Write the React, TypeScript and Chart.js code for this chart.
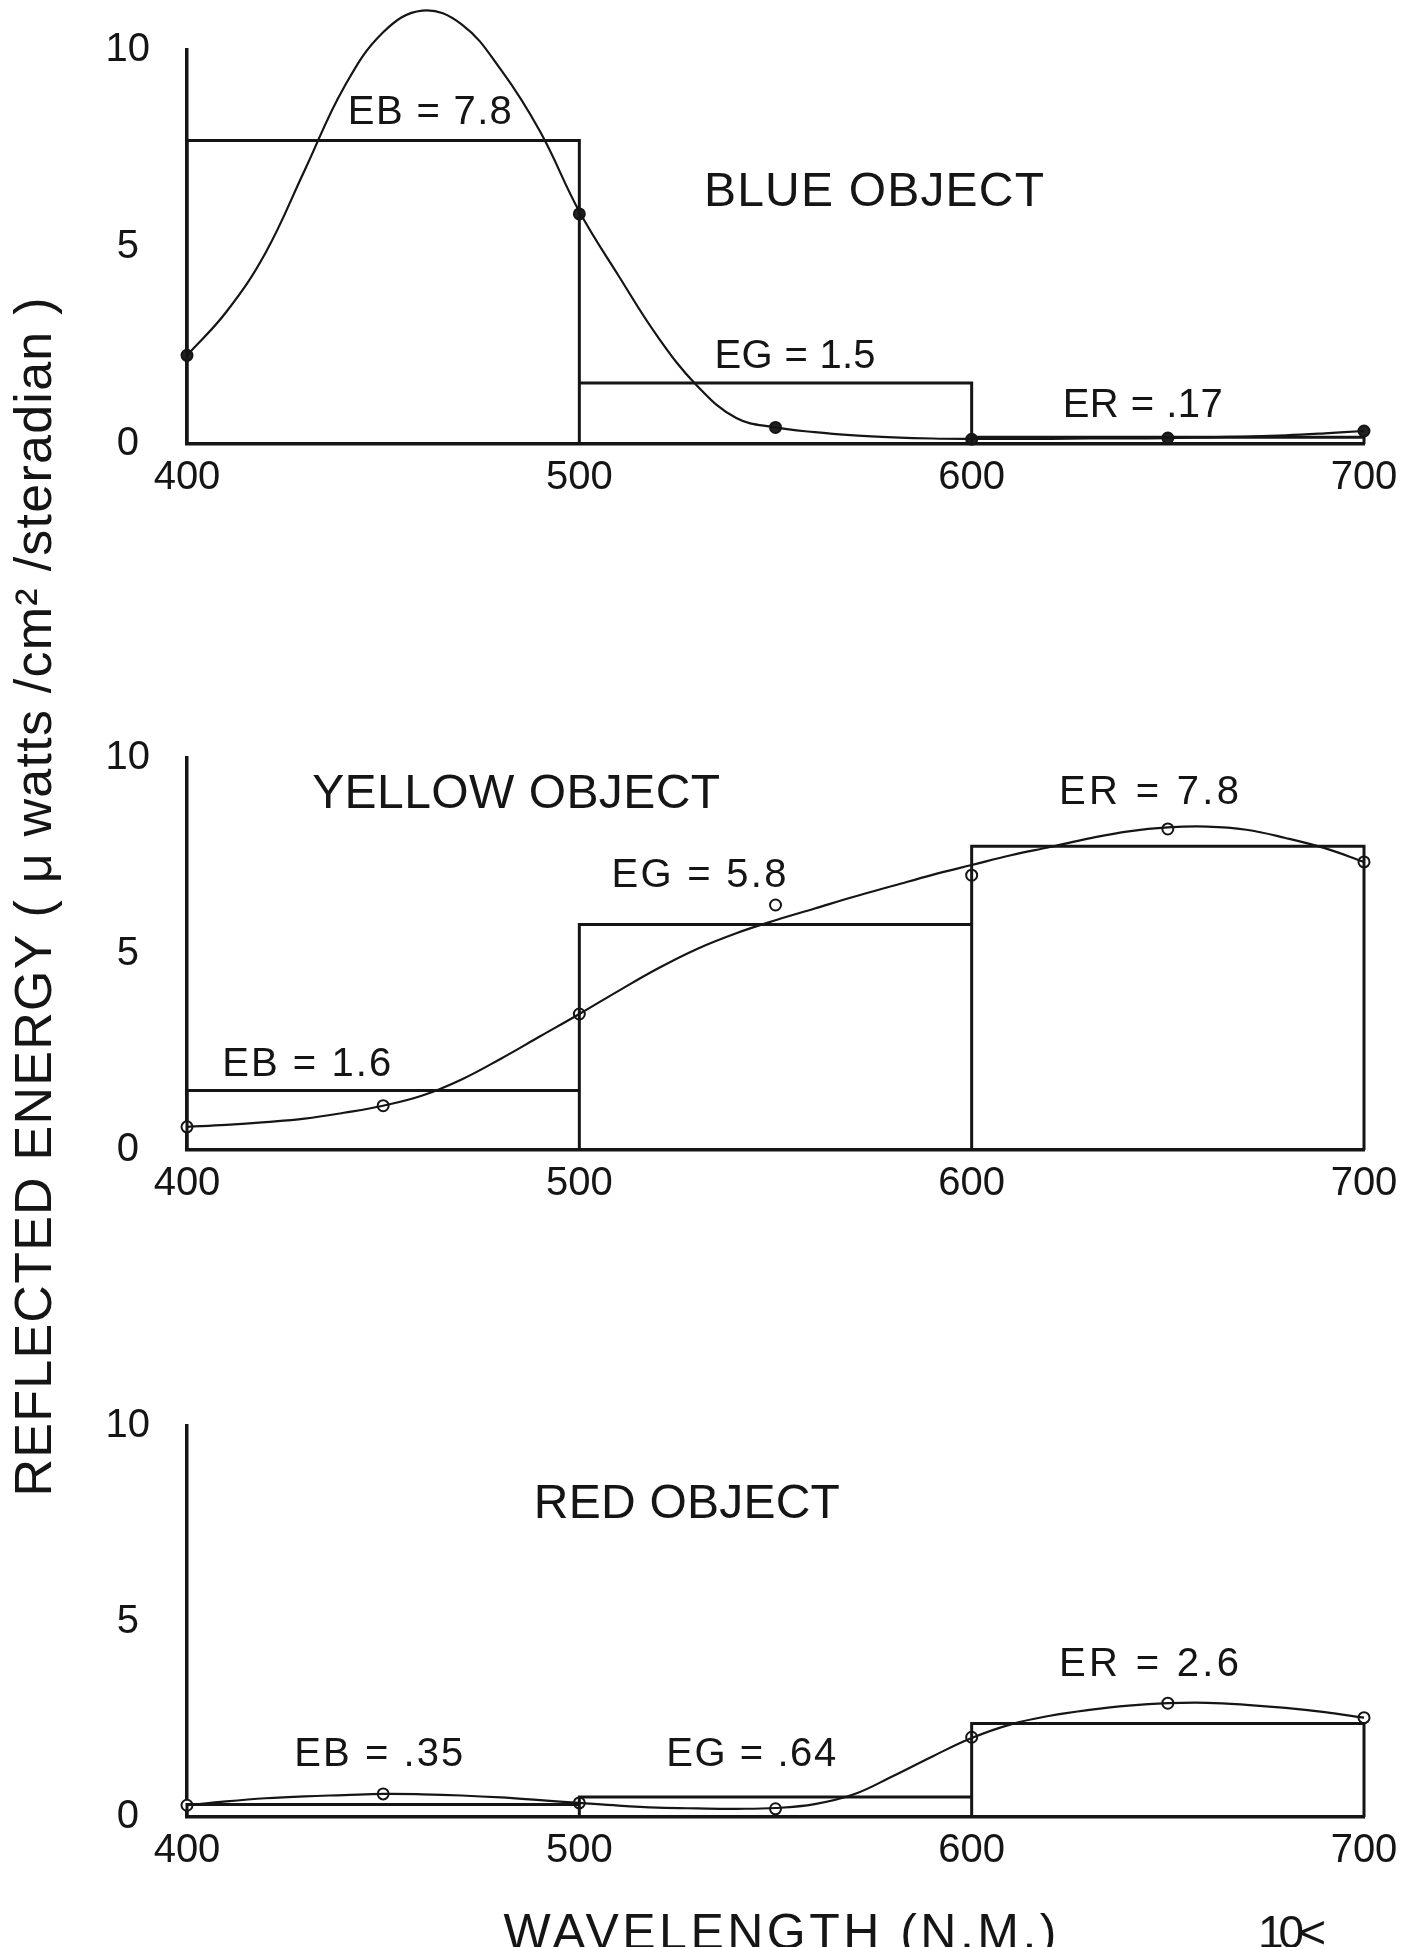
import React, { useEffect, useRef } from 'react';
import { Chart, registerables } from 'chart.js';

Chart.register(...registerables);

// ---------------- data ----------------
const WAVELENGTH_TICKS = [400, 500, 600, 700];
const ENERGY_TICKS = [0, 5, 10];
const BAND_EDGES = [400, 500, 600, 700];
const MARKER_NM = [400, 450, 500, 550, 600, 650, 700];
const CURVE_NM = [
  400, 410, 420, 430, 440, 450, 460, 470, 480, 490, 500, 510, 520, 530, 540, 550,
  560, 570, 580, 590, 600, 610, 620, 630, 640, 650, 660, 670, 680, 690, 700,
];

const BLUE_BAND_HEIGHTS = [7.7, 1.55, 0.17];
const BLUE_BAND_LABELS = ['EB = 7.8', 'EG = 1.5', 'ER = .17'];
const BLUE_MARKERS = [2.25, 10.43, 5.84, 0.42, 0.12, 0.15, 0.33];
const BLUE_CURVE = [
  2.25, 3.35, 4.85, 6.95, 9.05, 10.45, 11.0, 10.65, 9.5, 7.93, 5.9, 4.27, 2.72, 1.48, 0.66, 0.42,
  0.3, 0.22, 0.17, 0.14, 0.13, 0.13, 0.13, 0.14, 0.14, 0.15, 0.17, 0.19, 0.22, 0.27, 0.33,
];

const YELLOW_BAND_HEIGHTS = [1.52, 5.75, 7.75];
const YELLOW_BAND_LABELS = ['EB = 1.6', 'EG = 5.8', 'ER = 7.8'];
const YELLOW_MARKERS = [0.59, 1.13, 3.47, 6.25, 7.01, 8.19, 7.35];
const YELLOW_CURVE = [
  0.59, 0.64, 0.71, 0.8, 0.95, 1.13, 1.39, 1.8, 2.33, 2.9, 3.47, 4.06, 4.63, 5.13, 5.53, 5.86,
  6.16, 6.46, 6.74, 7.02, 7.27, 7.52, 7.73, 7.95, 8.13, 8.23, 8.25, 8.17, 7.96, 7.7, 7.35,
];

const RED_BAND_HEIGHTS = [0.32, 0.51, 2.39];
const RED_BAND_LABELS = ['EB = .35', 'EG = .64', 'ER = 2.6'];
const RED_MARKERS = [0.3, 0.59, 0.36, 0.21, 2.04, 2.91, 2.54];
const RED_CURVE = [
  0.3, 0.4, 0.48, 0.53, 0.56, 0.59, 0.58, 0.55, 0.5, 0.43, 0.36, 0.29, 0.24, 0.22, 0.21, 0.23,
  0.33, 0.58, 1.05, 1.55, 2.02, 2.37, 2.59, 2.74, 2.85, 2.91, 2.92, 2.87, 2.79, 2.68, 2.54,
];

const Y_TITLE = 'REFLECTED ENERGY ( \u03bc watts /cm\u00b2 /steradian )';
const X_TITLE = 'WAVELENGTH (N.M.)';
const PAGE_MARK = '10<';

// ---------------- layout / style ----------------
const PAGE_W = 1421;
const PAGE_H = 1947;
const PLOT_LEFT = 187;
const PLOT_RIGHT = 1364;
const X_AXIS_H = 60;
const INK = '#151515';
const FONT = '"Liberation Sans", Arial, Helvetica, sans-serif';

const PANELS = [
  {
    title: 'BLUE OBJECT', titleAt: [575.1, 6.38], titleWidth: 340,
    bands: BLUE_BAND_HEIGHTS, labels: BLUE_BAND_LABELS,
    labelAt: [[461.9, 8.4], [555, 2.22], [643.6, 0.96]], labelWidths: [164, 161, 160],
    markers: BLUE_MARKERS, curve: BLUE_CURVE, markerFill: '#222',
    top: 50, baseline: 444,
  },
  {
    title: 'YELLOW OBJECT', titleAt: [483.9, 9.05], titleWidth: 408,
    bands: YELLOW_BAND_HEIGHTS, labels: YELLOW_BAND_LABELS,
    labelAt: [[430.5, 2.16], [530.5, 6.99], [645.2, 9.12]], labelWidths: [169, 175, 180],
    markers: YELLOW_MARKERS, curve: YELLOW_CURVE, markerFill: '#fff',
    top: 758, baseline: 1150,
  },
  {
    title: 'RED OBJECT', titleAt: [527.4, 7.99], titleWidth: 306,
    bands: RED_BAND_HEIGHTS, labels: RED_BAND_LABELS,
    labelAt: [[448.9, 1.58], [543.8, 1.58], [645.2, 3.89]], labelWidths: [169, 170, 180],
    markers: RED_MARKERS, curve: RED_CURVE, markerFill: '#fff',
    top: 1426, baseline: 1817,
  },
];

function bandOutline(edges: number[], heights: number[]) {
  const pts: { x: number; y: number }[] = [];
  heights.forEach((h, i) => {
    pts.push({ x: edges[i], y: 0 });
    pts.push({ x: edges[i], y: h });
    pts.push({ x: edges[i + 1], y: h });
    pts.push({ x: edges[i + 1], y: 0 });
  });
  return pts;
}

function drawFitted(ctx: any, text: string, cx: number, cy: number, size: number, width: number) {
  ctx.font = `${size}px ${FONT}`;
  ctx.letterSpacing = '0px';
  const w0 = ctx.measureText(text).width;
  const n = Array.from(text).length;
  const sp = n > 1 ? (width - w0) / (n - 1) : 0;
  ctx.letterSpacing = `${sp}px`;
  ctx.textAlign = 'left';
  ctx.textBaseline = 'middle';
  ctx.fillText(text, cx - width / 2, cy);
  ctx.letterSpacing = '0px';
}

function buildConfig(p: any, drawPageText: boolean) {
  const textPlugin = {
    id: 'panelText',
    afterDraw(chart: any) {
      const { ctx, scales } = chart;
      const x = scales.x;
      const y = scales.y;
      ctx.save();
      ctx.fillStyle = INK;
      drawFitted(ctx, p.title, x.getPixelForValue(p.titleAt[0]), y.getPixelForValue(p.titleAt[1]), 48, p.titleWidth);
      p.labels.forEach((t: string, i: number) => {
        drawFitted(ctx, t, x.getPixelForValue(p.labelAt[i][0]), y.getPixelForValue(p.labelAt[i][1]), 40, p.labelWidths[i]);
      });
      if (drawPageText) {
        ctx.save();
        ctx.translate(37, 897);
        ctx.rotate(-Math.PI / 2);
        drawFitted(ctx, Y_TITLE, 0, 0, 52, 1199);
        ctx.restore();
        drawFitted(ctx, X_TITLE, 780, 1935, 50, 553);
        drawFitted(ctx, PAGE_MARK, 1292, 1935, 46, 68);
      }
      ctx.restore();
    },
  };

  const tickFont = { family: FONT, size: 40 };

  return {
    type: 'line',
    data: {
      datasets: [
        {
          data: bandOutline(BAND_EDGES, p.bands),
          borderColor: INK,
          borderWidth: 3,
          pointRadius: 0,
          tension: 0,
          fill: false,
          clip: false,
        },
        {
          data: CURVE_NM.map((nm, i) => ({ x: nm, y: p.curve[i] })),
          borderColor: INK,
          borderWidth: 2.2,
          pointRadius: 0,
          tension: 0.4,
          fill: false,
          clip: false,
        },
        {
          data: MARKER_NM.map((nm, i) => ({ x: nm, y: p.markers[i] })),
          showLine: false,
          pointRadius: 5.5,
          pointBorderWidth: 2,
          pointBorderColor: INK,
          pointBackgroundColor: p.markerFill,
          clip: false,
        },
      ],
    },
    options: {
      responsive: false,
      maintainAspectRatio: false,
      animation: false,
      events: [],
      layout: {
        autoPadding: false,
        padding: {
          left: 0,
          right: PAGE_W - PLOT_RIGHT,
          top: p.top,
          bottom: PAGE_H - p.baseline - X_AXIS_H,
        },
      },
      plugins: {
        legend: { display: false },
        tooltip: { enabled: false },
        title: { display: false },
      },
      scales: {
        x: {
          type: 'linear',
          min: 400,
          max: 700,
          afterFit: (s: any) => {
            s.height = X_AXIS_H;
            s.paddingLeft = 0;
            s.paddingRight = 0;
          },
          afterBuildTicks: (s: any) => { s.ticks = WAVELENGTH_TICKS.map((v) => ({ value: v })); },
          grid: { display: false, drawTicks: false },
          border: { display: true, width: 3.5, color: INK },
          ticks: {
            font: tickFont,
            color: INK,
            padding: 10,
            maxRotation: 0,
            autoSkip: false,
            callback: (v: any) => String(v),
          },
        },
        y: {
          type: 'linear',
          min: 0,
          max: 10,
          afterFit: (s: any) => {
            s.width = PLOT_LEFT;
            s.paddingTop = 0;
            s.paddingBottom = 0;
          },
          afterBuildTicks: (s: any) => { s.ticks = ENERGY_TICKS.map((v) => ({ value: v })); },
          grid: { display: false, drawTicks: false },
          border: { display: true, width: 3.5, color: INK },
          ticks: {
            font: tickFont,
            color: INK,
            padding: 37,
            crossAlign: 'center',
            callback: (v: any) => String(v),
          },
        },
      },
    },
    plugins: [textPlugin],
  };
}

export default function App() {
  const r0 = useRef<HTMLCanvasElement>(null);
  const r1 = useRef<HTMLCanvasElement>(null);
  const r2 = useRef<HTMLCanvasElement>(null);
  const refs = [r0, r1, r2];

  useEffect(() => {
    const charts = PANELS.map((p, i) => new Chart(refs[i].current as any, buildConfig(p, i === 2) as any));
    return () => charts.forEach((c) => c.destroy());
  }, []);

  return (
    <div
      style={{
        position: 'fixed', left: 0, top: 0, width: PAGE_W, height: PAGE_H,
        background: '#fff', overflow: 'hidden',
      }}
    >
      {PANELS.map((p, i) => (
        <canvas
          key={i}
          ref={refs[i]}
          width={PAGE_W}
          height={PAGE_H}
          style={{ position: 'absolute', left: 0, top: 0 }}
        />
      ))}
    </div>
  );
}
